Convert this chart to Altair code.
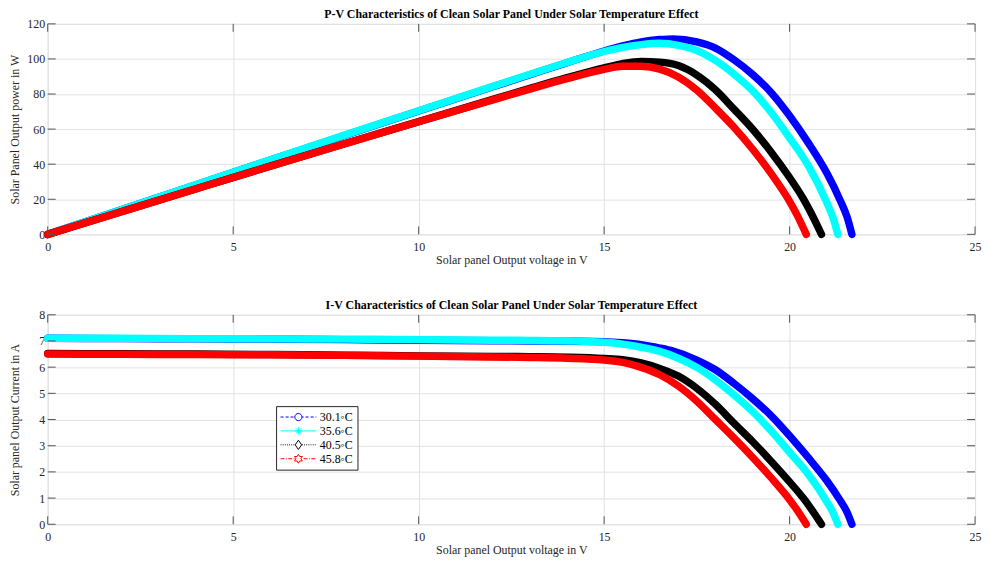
import math
import altair as alt
import pandas as pd

# ---------------- data ----------------
SERIES = ["30.1◦C", "35.6◦C", "40.5◦C", "45.8◦C"]
COLORS = ["#0000ff", "#00ffff", "#000000", "#ff0000"]

# 30.1 C (blue)
V_1 = [0, 2, 4, 6, 8, 10, 12, 13, 14, 15, 15.5, 16, 16.5, 16.86, 17.5, 18, 18.5, 19, 19.5, 20, 20.5, 21, 21.35, 21.55, 21.68]
I_1 = [7.10, 7.09, 7.08, 7.07, 7.05, 7.03, 7.01, 7.00, 6.99, 6.97, 6.93, 6.86, 6.73, 6.61, 6.27, 5.90, 5.38, 4.80, 4.15, 3.38, 2.55, 1.67, 0.94, 0.46, 0.0]
P_1 = [0, 14.18, 28.32, 42.42, 56.4, 70.3, 84.12, 91.0, 97.86, 104.55, 107.42, 109.76, 111.05, 111.44, 109.73, 106.2, 99.53, 91.2, 80.93, 67.6, 52.28, 35.07, 20.07, 9.91, 0.0]

# 35.6 C (cyan)
V_2 = [0, 2, 4, 6, 8, 10, 12, 13, 14, 15, 15.5, 16, 16.5, 17, 17.5, 18, 18.5, 19, 19.5, 20, 20.5, 21, 21.17, 21.3]
I_2 = [7.10, 7.10, 7.09, 7.08, 7.07, 7.05, 7.03, 7.02, 7.00, 6.95, 6.88, 6.76, 6.60, 6.34, 5.99, 5.51, 4.94, 4.31, 3.57, 2.75, 1.92, 0.87, 0.45, 0.0]
P_2 = [0, 14.2, 28.36, 42.48, 56.56, 70.5, 84.36, 91.26, 98.0, 104.25, 106.64, 108.16, 108.9, 107.78, 104.83, 99.18, 91.39, 81.89, 69.62, 55.0, 39.36, 18.27, 9.53, 0.0]

# 40.5 C (black)
V_3 = [0, 2, 4, 6, 8, 10, 12, 13, 14, 15, 15.5, 16, 16.5, 17, 17.5, 18, 18.5, 19, 19.5, 20, 20.38, 20.6, 20.86]
I_3 = [6.52, 6.51, 6.50, 6.48, 6.46, 6.43, 6.41, 6.40, 6.38, 6.33, 6.28, 6.16, 5.95, 5.66, 5.19, 4.58, 3.86, 3.16, 2.41, 1.62, 0.98, 0.55, 0.0]
P_3 = [0, 13.02, 26.0, 38.88, 51.68, 64.3, 76.92, 83.2, 89.32, 94.95, 97.34, 98.56, 98.18, 96.22, 90.83, 82.44, 71.41, 60.04, 47.0, 32.4, 19.97, 11.33, 0.0]

# 45.8 C (red)
V_4 = [0, 2, 4, 6, 8, 10, 12, 13, 14, 15, 15.5, 16, 16.5, 17, 17.5, 18, 18.5, 19, 19.5, 20, 20.2, 20.45]
I_4 = [6.50, 6.49, 6.48, 6.47, 6.45, 6.42, 6.39, 6.37, 6.34, 6.27, 6.18, 5.99, 5.71, 5.28, 4.70, 4.00, 3.30, 2.56, 1.78, 0.94, 0.55, 0.0]
P_4 = [0, 12.98, 25.92, 38.82, 51.6, 64.2, 76.68, 82.81, 88.76, 94.05, 95.79, 95.84, 94.22, 89.76, 82.25, 72.0, 61.05, 48.64, 34.71, 18.8, 11.11, 0.0]

X_TICKS = [0, 5, 10, 15, 20, 25]
P_TICKS = [0, 20, 40, 60, 80, 100, 120]
I_TICKS = [0, 1, 2, 3, 4, 5, 6, 7, 8]

TITLE_PV = "P-V Characteristics of Clean Solar Panel Under Solar Temperature Effect"
TITLE_IV = "I-V Characteristics of Clean Solar Panel Under Solar Temperature Effect"
XT = "Solar panel Output voltage in V"
YT_P = "Solar Panel Output power in W"
YT_I = "Solar panel Output Current in A"

# ---------------- build tables ----------------
VS = [V_1, V_2, V_3, V_4]
IS = [I_1, I_2, I_3, I_4]
PS = [P_1, P_2, P_3, P_4]
frames = [pd.DataFrame({"V": v, "I": i, "P": p, "series": s})
          for v, i, p, s in zip(VS, IS, PS, SERIES)]

FONT = "Liberation Serif"
W = 934
H_TOP, H_BOT = 212, 211
TICK = 8
XSCALE = alt.Scale(domain=[0, 25], nice=False)


def xaxis():
    return alt.Axis(values=X_TICKS, title=XT, grid=True, gridColor="#e2e2e2",
                    ticks=False, domain=False, labelFont=FONT, labelFontSize=12,
                    labelColor="#262626", labelPadding=7, titleFont=FONT,
                    titleFontSize=12, titleFontWeight="normal", titleColor="#262626",
                    titlePadding=2, labelFlush=False)


def yaxis(vals, title):
    return alt.Axis(values=vals, title=title, grid=True, gridColor="#e2e2e2",
                    ticks=False, domain=False, labelFont=FONT, labelFontSize=12,
                    labelColor="#262626", labelPadding=3, titleFont=FONT,
                    titleFontSize=12, titleFontWeight="normal", titleColor="#262626",
                    titlePadding=4, minExtent=22, maxExtent=22)


def inner_ticks(ys, ydom, ytitle, h):
    tx = pd.DataFrame({"t": X_TICKS})
    ty = pd.DataFrame({"t": ys})
    ys_scale = alt.Scale(domain=ydom, nice=False)
    style = dict(color="#555555", strokeWidth=1)
    xenc = alt.X("t:Q", scale=XSCALE, axis=xaxis())
    yenc = alt.Y("t:Q", scale=ys_scale, axis=yaxis(ys, ytitle))
    bot = alt.Chart(tx).mark_rule(**style).encode(x=xenc, y=alt.value(h), y2=alt.value(h - TICK))
    top = alt.Chart(tx).mark_rule(**style).encode(x=xenc, y=alt.value(0), y2=alt.value(TICK))
    lft = alt.Chart(ty).mark_rule(**style).encode(y=yenc, x=alt.value(0), x2=alt.value(TICK))
    rgt = alt.Chart(ty).mark_rule(**style).encode(y=yenc, x=alt.value(W - TICK), x2=alt.value(W))
    return [bot, top, lft, rgt]


def curves(yfield, ydom, yvals, ytitle):
    layers = []
    for df, c in zip(frames, COLORS):
        layers.append(
            alt.Chart(df).mark_line(color=c, strokeWidth=7.5, strokeCap="round",
                                    strokeJoin="round", interpolate="monotone").encode(
                x=alt.X("V:Q", scale=XSCALE, axis=xaxis()),
                y=alt.Y(f"{yfield}:Q", scale=alt.Scale(domain=ydom, nice=False),
                        axis=yaxis(yvals, ytitle)),
                order=alt.Order("V:Q"),
            )
        )
    return layers


# ---------------- legend symbols (dashed line + marker) ----------------
def dashes(pattern, start=-1.0, stop=1.0):
    segs = []
    pos = start
    k = 0
    while pos < stop:
        length = pattern[k % len(pattern)]
        end = min(pos + length, stop)
        if k % 2 == 0:
            segs.append((pos, end))
        pos = end
        k += 1
    return segs


def seg_path(segs, hole=0.0):
    out = ""
    for a, b in segs:
        if hole > 0:
            if b <= -hole or a >= hole:
                pass
            elif a < -hole:
                b = -hole
            elif b > hole:
                a = hole
            else:
                continue
        out += f"M{a:.3f},0H{b:.3f}"
    return out


circle = "M0.2,0A0.2,0.2,0,1,1,-0.2,0A0.2,0.2,0,1,1,0.2,0Z"
aster = "M-0.21,0H0.21M0,-0.21V0.21M-0.15,-0.15L0.15,0.15M-0.15,0.15L0.15,-0.15"
diamond = "M0,-0.26L0.18,0L0,0.26L-0.18,0Z"
hexa_pts = []
for k in range(12):
    r = 0.25 if k % 2 == 0 else 0.145
    a = -math.pi / 2 + k * math.pi / 6
    hexa_pts.append((r * math.cos(a), r * math.sin(a)))
hexagram = "M" + "L".join(f"{x:.3f},{y:.3f}" for x, y in hexa_pts) + "Z"

SHAPES = [
    seg_path(dashes([0.17, 0.11]), hole=0.2) + circle,
    "M-1,0H1" + aster,
    seg_path(dashes([0.05, 0.07]), hole=0.18) + diamond,
    seg_path(dashes([0.22, 0.08, 0.05, 0.08]), hole=0.22) + hexagram,
]

leg_df = pd.DataFrame({"series": SERIES, "V": [v[0] for v in VS], "I": [i[0] for i in IS]})
legend = alt.Legend(title=None, orient="none", legendX=230, legendY=385,
                    direction="vertical", strokeColor="#262626", fillColor="white",
                    padding=4, symbolSize=1296, symbolStrokeWidth=1, symbolOpacity=1,
                    clipHeight=14, labelFont=FONT, labelFontSize=12, labelColor="black",
                    labelOffset=3, rowPadding=0, symbolOffset=0)
legend_layer = alt.Chart(leg_df).mark_point(filled=False, opacity=0, strokeWidth=1).encode(
    x=alt.X("V:Q", scale=XSCALE, axis=xaxis()),
    y=alt.Y("I:Q", scale=alt.Scale(domain=[0, 8], nice=False), axis=yaxis(I_TICKS, YT_I)),
    color=alt.Color("series:N", scale=alt.Scale(domain=SERIES, range=COLORS), legend=legend),
    shape=alt.Shape("series:N", scale=alt.Scale(domain=SERIES, range=SHAPES), legend=legend),
)

title_style = dict(font=FONT, fontSize=12, fontWeight="bold", color="black", offset=-3,
                   anchor="middle", frame="group")

top = alt.layer(*curves("P", [0, 120], P_TICKS, YT_P),
                *inner_ticks(P_TICKS, [0, 120], YT_P, H_TOP)).properties(
    width=W, height=H_TOP, title=alt.Title(TITLE_PV, **title_style))

bottom = alt.layer(*curves("I", [0, 8], I_TICKS, YT_I),
                   *inner_ticks(I_TICKS, [0, 8], YT_I, H_BOT), legend_layer).properties(
    width=W, height=H_BOT, title=alt.Title(TITLE_IV, **title_style))

chart = alt.vconcat(top, bottom, spacing=32).properties(
    padding={"left": 0, "top": -3, "right": 0, "bottom": 0}
).configure_view(stroke="#808080", strokeWidth=1).configure(background="white")

chart.save("out.html", embed_options={"renderer": "svg", "actions": False})
